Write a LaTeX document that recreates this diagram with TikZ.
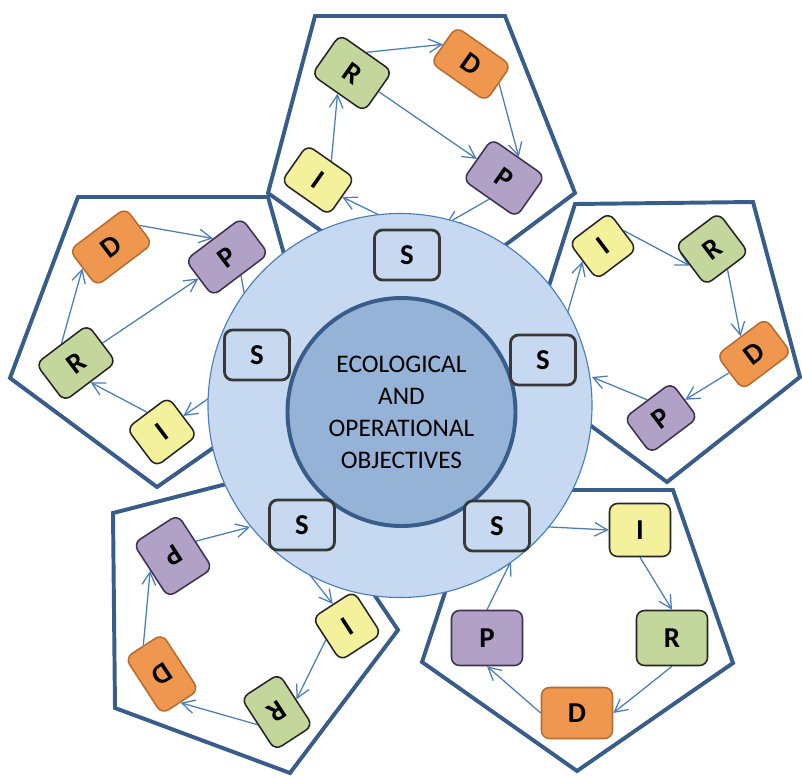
\documentclass[tikz,border=0pt]{standalone}
\usepackage{fontspec}
\setmainfont{Carlito}
\usetikzlibrary{arrows.meta}

\definecolor{ringfill}{HTML}{C6D9F1}
\definecolor{corefill}{HTML}{95B3D7}
\definecolor{navy}{HTML}{385D8A}
\definecolor{flowblue}{HTML}{4A7EBB}
\definecolor{iyel}{HTML}{F4F19C}
\definecolor{rgreen}{HTML}{C3D69B}
\definecolor{dorange}{HTML}{F0974F}
\definecolor{dline}{HTML}{B66D31}
\definecolor{ppurple}{HTML}{B2A1C7}
\definecolor{pline}{HTML}{3F3151}

\pgfdeclarelayer{back}
\pgfdeclarelayer{mid}
\pgfsetlayers{back,mid,main}

\begin{document}
\begin{tikzpicture}[x=0.25mm, y=-0.25mm,
    cyc/.style={rounded corners=2mm, inner sep=0pt, line width=1.1pt, font=\fontsize{20.5}{21}\selectfont\bfseries},
    sbox/.style={cyc, minimum width=16.25mm, minimum height=12.5mm, fill=ringfill, draw=black!78, line width=2pt},
    ibox/.style={cyc, fill=iyel, draw=black!85},
    rbox/.style={cyc, fill=rgreen, draw=black!85},
    dbox/.style={cyc, fill=dorange, draw=dline},
    pbox/.style={cyc, fill=ppurple, draw=pline},
    penta/.style={draw=navy, fill=white, line width=2.8pt},
    flow/.style={draw=flowblue, line width=0.9pt, -{Straight Barb[length=3.2mm, width=3.4mm]}},
    ]
    \useasboundingbox (0,0) rectangle (802,775);

    % Pentagons
    \begin{pgfonlayer}{back}
    % top
    \draw[penta] (315,16) -- (505,16) -- (575,193) -- (425,305) -- (268,193) -- cycle;
    % right
    \draw[penta] (575,204) -- (753,202) -- (800,377) -- (667,482) -- (521,374) -- cycle;
    % bottom right
    \draw[penta] (479,490) -- (673,490) -- (733,663) -- (577,771) -- (422,662) -- cycle;
    % bottom left
    \draw[penta] (113,513) -- (289,468) -- (398,630) -- (290,773) -- (115,708) -- cycle;
    % left
    \draw[penta] (78,197) -- (268,197) -- (318,375) -- (157,487) -- (10,378) -- cycle;
    \end{pgfonlayer}

    % Central circles
    \node[circle, fill=ringfill, draw=flowblue, line width=0.8pt, minimum size=96mm] (ring) at (400,405.5) {};
    \node[circle, fill=corefill, draw=navy, line width=2.8pt, minimum size=57mm, align=center,
        font=\fontsize{18}{22.8}\selectfont] (core) at (401.5,412) {ECOLOGICAL\\AND\\OPERATIONAL\\OBJECTIVES};

    % S boxes
    \node[sbox] (S_top) at (407,255) {S};
    \node[sbox] (S_right) at (543,360) {S};
    \node[sbox] (S_botr) at (497,526) {S};
    \node[sbox] (S_botl) at (302,525) {S};
    \node[sbox] (S_left) at (257,355) {S};

    % Top pentagon
    \node[ibox, rotate=-35, minimum width=14.5mm, minimum height=11.25mm] (I_top) at (318,180) {I};
    \node[rbox, rotate=-35, minimum width=16mm, minimum height=12.25mm] (R_top) at (352,73) {R};
    \node[dbox, rotate=-35, minimum width=16.75mm, minimum height=11mm] (D_top) at (471,64) {D};
    \node[pbox, rotate=-35, minimum width=16.25mm, minimum height=12.5mm] (P_top) at (504,178) {P};
    % Right pentagon
    \node[ibox, rotate=37, minimum width=12.5mm, minimum height=11.5mm] (I_right) at (603,246) {I};
    \node[rbox, rotate=37, minimum width=13.5mm, minimum height=12.5mm] (R_right) at (712,249) {R};
    \node[dbox, rotate=37, minimum width=15.25mm, minimum height=10.75mm] (D_right) at (754,354) {D};
    \node[pbox, rotate=37, minimum width=14.75mm, minimum height=11mm] (P_right) at (661,418) {P};
    % Bottom right pentagon
    \node[ibox, minimum width=15.25mm, minimum height=13.25mm] (I_botr) at (640,530) {I};
    \node[rbox, minimum width=17.75mm, minimum height=13.75mm] (R_botr) at (672,638) {R};
    \node[dbox, minimum width=17.75mm, minimum height=12.75mm] (D_botr) at (577,713) {D};
    \node[pbox, minimum width=17.75mm, minimum height=13.75mm] (P_botr) at (487,638) {P};
    % Bottom left pentagon
    \node[ibox, rotate=-147, minimum width=12.25mm, minimum height=12.75mm] (I_botl) at (347,626) {I};
    \node[rbox, rotate=-147, minimum width=11.25mm, minimum height=15.5mm] (R_botl) at (277,712) {R};
    \node[dbox, rotate=-147, minimum width=11mm, minimum height=16.75mm] (D_botl) at (162,674) {D};
    \node[pbox, rotate=-147, minimum width=13.25mm, minimum height=16mm] (P_botl) at (173,556) {P};
    % Left pentagon
    \node[ibox, rotate=37, minimum width=13mm, minimum height=12mm] (I_left) at (162,432) {I};
    \node[rbox, rotate=37, minimum width=16.25mm, minimum height=11.75mm] (R_left) at (76,363) {R};
    \node[dbox, rotate=37, minimum width=17.5mm, minimum height=11.25mm] (D_left) at (111,247) {D};
    \node[pbox, rotate=37, minimum width=17.5mm, minimum height=11.25mm] (P_left) at (227,257) {P};

    % Arrow tips on the ring
    \coordinate (in_top) at (446,224);
    \coordinate (in_right) at (592,377);
    \coordinate (in_botr) at (511,561);
    \coordinate (in_botl) at (250,527);
    \coordinate (in_left) at (248,315);

    % Edges
    \begin{pgfonlayer}{mid}
    % top
    \draw[flow] (S_top.north) -- (I_top.east);
    \draw[flow] (I_top.north) -- (R_top.south);
    \draw[flow] (R_top.north) -- (D_top.west);
    \draw[flow] (R_top.east) -- (P_top.west);
    \draw[flow] (D_top.east) -- (P_top.north);
    \draw[flow] (P_top.south) -- (in_top);
    % right
    \draw[flow] (S_right.55) -- (I_right.west);
    \draw[flow] (I_right.east) -- (R_right.west);
    \draw[flow] (R_right.south) -- (D_right.north);
    \draw[flow] (D_right.west) -- (P_right.east);
    \draw[flow] (P_right.north) -- (in_right);
    % bottom right
    \draw[flow] (S_botr.east) -- (I_botr.west);
    \draw[flow] (I_botr.south) -- (R_botr.north);
    \draw[flow] (R_botr.south) -- (D_botr.east);
    \draw[flow] (D_botr.west) -- (P_botr.south);
    \draw[flow] (P_botr.north) -- (in_botr);
    % bottom left
    \draw[flow] (S_botl.248) -- (I_botl.south);
    \draw[flow] (I_botl.east) -- (R_botl.west);
    \draw[flow] (R_botl.east) -- (D_botl.north);
    \draw[flow] (D_botl.south) -- (P_botl.east);
    \draw[flow] (P_botl.west) -- (in_botl);
    % left
    \draw[flow] (S_left.228) -- (I_left.east);
    \draw[flow] (I_left.north) -- (R_left.south);
    \draw[flow] (R_left.north) -- (D_left.west);
    \draw[flow] (R_left.east) -- (P_left.west);
    \draw[flow] (D_left.east) -- (P_left.north);
    \draw[flow] (P_left.south) -- (in_left);
    \end{pgfonlayer}
\end{tikzpicture}
\end{document}
